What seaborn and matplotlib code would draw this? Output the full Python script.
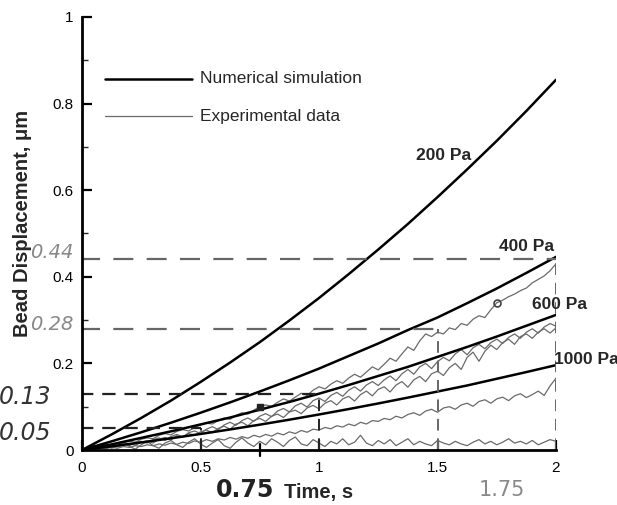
import numpy as np
import pandas as pd
import matplotlib
matplotlib.use('Agg')
import matplotlib.pyplot as plt
import seaborn as sns

# numerical simulation, sampled every 0.125 s
sim_time = [0, 0.125, 0.25, 0.375, 0.5, 0.625, 0.75, 0.875, 1.0,
            1.125, 1.25, 1.375, 1.5, 1.625, 1.75, 1.875, 2.0]
sim_200 = [0, 0.036, 0.074, 0.114, 0.157, 0.202, 0.249, 0.299, 0.351,
           0.406, 0.463, 0.522, 0.584, 0.648, 0.714, 0.783, 0.855]
sim_400 = [0, 0.020, 0.041, 0.063, 0.086, 0.110, 0.135, 0.161, 0.188,
           0.217, 0.246, 0.277, 0.306, 0.339, 0.373, 0.409, 0.446]
sim_600 = [0, 0.013, 0.028, 0.043, 0.059, 0.075, 0.093, 0.111, 0.130,
           0.150, 0.171, 0.192, 0.215, 0.238, 0.262, 0.287, 0.312]
sim_1000 = [0, 0.0085, 0.0175, 0.027, 0.037, 0.0475, 0.0585, 0.070, 0.082,
            0.0945, 0.1075, 0.121, 0.135, 0.149, 0.1645, 0.180, 0.196]
sim_labels = ['200 Pa', '400 Pa', '600 Pa', '1000 Pa']
label_pos = [(1.41, 0.68), (1.76, 0.47), (1.90, 0.335), (1.99, 0.21)]

# experimental traces, sampled every 0.025 s
exp_time = np.linspace(0, 2, 81)
exp_a = [0, 0.002, 0.006, 0.005, 0.010, 0.013, 0.011, 0.017, 0.020, 0.018, 0.025,
         0.028, 0.026, 0.034, 0.038, 0.035, 0.043, 0.047, 0.044, 0.052, 0.058,
         0.062, 0.060, 0.068, 0.074, 0.071, 0.080, 0.086, 0.083, 0.092, 0.100,
         0.104, 0.101, 0.110, 0.118, 0.113, 0.122, 0.131, 0.126, 0.138, 0.146,
         0.141, 0.152, 0.160, 0.154, 0.166, 0.175, 0.168, 0.180, 0.192, 0.185,
         0.198, 0.212, 0.205, 0.222, 0.238, 0.230, 0.252, 0.268, 0.262, 0.272,
         0.268, 0.282, 0.278, 0.292, 0.288, 0.302, 0.310, 0.306, 0.324, 0.340,
         0.346, 0.354, 0.360, 0.368, 0.374, 0.386, 0.394, 0.402, 0.414, 0.430]
exp_b = [0, 0.001, 0.004, 0.003, 0.008, 0.006, 0.011, 0.014, 0.010, 0.017, 0.020,
         0.016, 0.024, 0.028, 0.022, 0.031, 0.036, 0.030, 0.040, 0.044, 0.038,
         0.048, 0.054, 0.047, 0.058, 0.064, 0.057, 0.068, 0.074, 0.066, 0.078,
         0.084, 0.077, 0.090, 0.096, 0.088, 0.102, 0.108, 0.099, 0.114, 0.120,
         0.112, 0.126, 0.133, 0.124, 0.138, 0.146, 0.136, 0.150, 0.158, 0.149,
         0.162, 0.171, 0.160, 0.176, 0.186, 0.175, 0.192, 0.200, 0.188, 0.204,
         0.214, 0.206, 0.222, 0.232, 0.220, 0.236, 0.244, 0.234, 0.248, 0.256,
         0.246, 0.260, 0.268, 0.258, 0.272, 0.280, 0.270, 0.284, 0.292, 0.286]
exp_c = [0, 0.003, 0.002, 0.006, 0.004, 0.009, 0.007, 0.012, 0.015, 0.011, 0.018,
         0.021, 0.016, 0.025, 0.029, 0.023, 0.033, 0.030, 0.038, 0.034, 0.042,
         0.046, 0.040, 0.050, 0.055, 0.048, 0.060, 0.064, 0.056, 0.068, 0.073,
         0.066, 0.078, 0.083, 0.075, 0.088, 0.092, 0.084, 0.097, 0.103, 0.095,
         0.108, 0.114, 0.104, 0.118, 0.124, 0.113, 0.128, 0.136, 0.125, 0.140,
         0.146, 0.134, 0.150, 0.158, 0.145, 0.162, 0.170, 0.158, 0.176, 0.182,
         0.172, 0.190, 0.200, 0.186, 0.214, 0.226, 0.205, 0.228, 0.242, 0.232,
         0.248, 0.256, 0.244, 0.262, 0.268, 0.258, 0.272, 0.280, 0.270, 0.282]
exp_d = [0, 0.002, 0.001, 0.004, 0.003, 0.006, 0.004, 0.008, 0.006, 0.010, 0.008,
         0.012, 0.010, 0.014, 0.011, 0.016, 0.013, 0.018, 0.015, 0.021, 0.018,
         0.024, 0.020, 0.026, 0.023, 0.029, 0.025, 0.031, 0.027, 0.034, 0.030,
         0.036, 0.032, 0.039, 0.035, 0.042, 0.038, 0.045, 0.041, 0.048, 0.046,
         0.052, 0.049, 0.056, 0.053, 0.060, 0.056, 0.064, 0.060, 0.068, 0.066,
         0.073, 0.070, 0.078, 0.074, 0.082, 0.086, 0.080, 0.090, 0.094, 0.087,
         0.097, 0.100, 0.094, 0.104, 0.108, 0.101, 0.112, 0.116, 0.108, 0.118,
         0.122, 0.114, 0.125, 0.130, 0.121, 0.128, 0.136, 0.126, 0.148, 0.166]
exp_e = [0, 0.004, 0.012, 0.006, 0.014, 0.004, 0.010, 0.018, 0.008, 0.002, 0.012,
         0.020, 0.010, 0.004, 0.016, 0.022, 0.012, 0.006, 0.018, 0.026, 0.014,
         0.006, 0.016, 0.024, 0.010, 0.004, 0.018, 0.028, 0.016, 0.008, 0.020,
         0.012, 0.026, 0.018, 0.008, 0.022, 0.030, 0.014, 0.010, 0.024, 0.016,
         0.008, 0.020, 0.014, 0.026, 0.012, 0.018, 0.034, 0.016, 0.010, 0.022,
         0.014, 0.024, 0.010, 0.018, 0.026, 0.012, 0.020, 0.014, 0.010, 0.022,
         0.016, 0.012, 0.020, 0.014, 0.010, 0.018, 0.024, 0.014, 0.020, 0.012,
         0.018, 0.026, 0.016, 0.020, 0.014, 0.022, 0.012, 0.018, 0.024, 0.020]

# hand-drawn reading guides
guide_times = [0.5, 1.0, 1.5, 2.0]
guide_values = [0.05, 0.13, 0.28, 0.44]
guide_labels = ['0.05', '0.13', '0.28', '0.44']
marked_times = ['0.75', '1.75']
marker_pts = [(0.75, 0.10), (1.75, 0.34)]

sns.set_style('ticks')
plt.rcParams['font.family'] = ['Liberation Sans', 'DejaVu Sans']

fig = plt.figure(figsize=(6.17, 5.05), dpi=100)
ax = fig.add_axes([82 / 617, 55 / 505, 474 / 617, 433 / 505])

exp_color = '#6a6a6a'
for trace in [exp_a, exp_b, exp_c, exp_d, exp_e]:
    sns.lineplot(x=exp_time, y=trace, ax=ax, color=exp_color, lw=0.9)

for curve in [sim_200, sim_400, sim_600, sim_1000]:
    sns.lineplot(x=sim_time, y=curve, ax=ax, color='black', lw=1.8)

for lab, (tx, ty) in zip(sim_labels, label_pos):
    ax.text(tx, ty, lab, fontsize=12.5, fontweight='bold', ha='left', va='center', clip_on=False)

# guide lines
guide_colors = ['#222222', '#222222', '#666666', '#666666']
guide_dashes = [(6, 4), (6, 4), (9, 6), (9, 6)]
for t, v, c, d in zip(guide_times, guide_values, guide_colors, guide_dashes):
    ax.plot([-0.01, t], [v, v], color=c, lw=1.6, dashes=d)
    ax.plot([t, t], [0, v], color=c, lw=1.4, dashes=(6, 4))

ax.plot([0.75, 0.75], [-0.015, 0.015], color='black', lw=1.6, clip_on=False)
ax.plot(*marker_pts[0], marker='s', ms=5, color='#222222')
ax.plot(*marker_pts[1], marker='o', ms=5, mfc='none', mec='#444444', mew=1.2)

# handwritten values
hand = ['DejaVu Sans Condensed', 'DejaVu Sans']
ax.text(-0.35, 0.04, guide_labels[0], fontsize=17, style='italic', color='#333333', family=hand, va='center', ha='left', clip_on=False)
ax.text(-0.35, 0.123, guide_labels[1], fontsize=17, style='italic', color='#333333', family=hand, va='center', ha='left', clip_on=False)
ax.text(-0.035, 0.29, guide_labels[2], fontsize=14, style='italic', color='#888888', family=hand, va='center', ha='right', clip_on=False)
ax.text(-0.035, 0.455, guide_labels[3], fontsize=14, style='italic', color='#888888', family=hand, va='center', ha='right', clip_on=False)
ax.text(0.69, -0.093, marked_times[0], fontsize=17, fontweight='bold', color='#222222', family=hand, va='center', ha='center', clip_on=False)
ax.text(1.77, -0.093, marked_times[1], fontsize=15, color='#888888', family=hand, va='center', ha='center', clip_on=False)

# legend drawn by hand
ax.plot([0.048, 0.232], [0.857, 0.857], transform=ax.transAxes, color='black', lw=1.8)
ax.plot([0.048, 0.232], [0.771, 0.771], transform=ax.transAxes, color=exp_color, lw=0.9)
ax.text(0.249, 0.857, 'Numerical simulation', transform=ax.transAxes, fontsize=12.5, va='center')
ax.text(0.249, 0.771, 'Experimental data', transform=ax.transAxes, fontsize=12.5, va='center')

ax.set_xlim(0, 2)
ax.set_ylim(0, 1)
ax.set_xticks([0, 0.5, 1, 1.5, 2])
ax.set_xticklabels(['0', '0.5', '1', '1.5', '2'])
ax.set_yticks([0, 0.2, 0.4, 0.6, 0.8, 1])
ax.set_yticklabels(['0', '0.2', '0.4', '0.6', '0.8', '1'])
ax.set_yticks(np.arange(0.1, 1.0, 0.2), minor=True)
ax.tick_params(axis='both', which='major', direction='in', length=7, width=1.6, labelsize=11, colors='black')
ax.tick_params(axis='y', which='major', pad=6)
ax.tick_params(axis='x', which='major', pad=8)
ax.tick_params(axis='y', which='minor', direction='in', length=4, width=1)

for side in ['top', 'right']:
    ax.spines[side].set_visible(False)
for side in ['left', 'bottom']:
    ax.spines[side].set_linewidth(2)
    ax.spines[side].set_color('black')

ax.set_xlabel('Time, s', fontsize=14.5, fontweight='bold')
ax.set_ylabel('Bead Displacement, \u03bcm', fontsize=14.5, fontweight='bold')
ax.yaxis.set_label_coords(-0.105, 0.524)
ax.xaxis.set_label_coords(0.5, -0.076)

fig.savefig('out.png', dpi=100)
